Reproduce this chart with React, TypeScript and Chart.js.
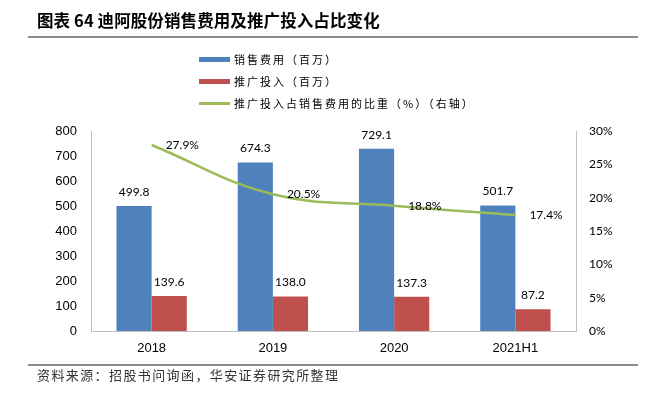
import React, { useEffect, useRef } from "react";
import { Chart, registerables } from "chart.js";

Chart.register(...registerables);

const categories = ["2018", "2019", "2020", "2021H1"];
const salesExpense = [499.8, 674.3, 729.1, 501.7];
const promotion = [139.6, 138.0, 137.3, 87.2];
const promoShare = [27.9, 20.5, 18.8, 17.4];
const leftTicks = [0, 100, 200, 300, 400, 500, 600, 700, 800];
const rightTicks = [0, 5, 10, 15, 20, 25, 30];

const BLUE = "#4F81BD";
const RED = "#C0504D";
const GREEN = "#9BBB59";

const labelPlugin = {
  id: "valueLabels",
  afterDatasetsDraw(chart: any) {
    const ctx = chart.ctx;
    ctx.save();
    ctx.fillStyle = "#000";
    ctx.font = "12px Lato";
    chart.data.datasets.forEach((ds: any, i: number) => {
      const meta = chart.getDatasetMeta(i);
      meta.data.forEach((el: any, j: number) => {
        const v = ds.data[j];
        if (ds.type === "line") {
          ctx.textAlign = "left";
          ctx.textBaseline = "middle";
          ctx.fillText(v.toFixed(1) + "%", el.x + 14, el.y);
        } else {
          ctx.textAlign = "center";
          ctx.textBaseline = "middle";
          ctx.fillText(v.toFixed(1), el.x, el.y - 14);
        }
      });
    });
    ctx.restore();
  },
};

export default function App() {
  const ref = useRef<HTMLCanvasElement>(null);
  useEffect(() => {
    if (!ref.current) return;
    const chart = new Chart(ref.current, {
      type: "bar",
      data: {
        labels: categories,
        datasets: [
          {
            type: "line",
            label: "推广投入占销售费用的比重（%）（右轴）",
            data: promoShare,
            yAxisID: "y1",
            borderColor: GREEN,
            backgroundColor: GREEN,
            borderWidth: 2.5,
            pointRadius: 0,
            tension: 0.4,
            order: 0,
          } as any,
          {
            type: "bar",
            label: "销售费用（百万）",
            data: salesExpense,
            yAxisID: "y",
            backgroundColor: BLUE,
            categoryPercentage: 0.58,
            barPercentage: 1.0,
            order: 1,
          },
          {
            type: "bar",
            label: "推广投入（百万）",
            data: promotion,
            yAxisID: "y",
            backgroundColor: RED,
            categoryPercentage: 0.58,
            barPercentage: 1.0,
            order: 1,
          },
        ],
      },
      options: {
        animation: false,
        responsive: false,
        maintainAspectRatio: false,
        layout: { padding: { top: 131, left: 0, right: 0, bottom: 0 } },
        plugins: { legend: { display: false }, tooltip: { enabled: false } },
        scales: {
          x: {
            grid: { display: false, drawTicks: false },
            border: { color: "#BFBFBF" },
            ticks: { color: "#000", font: { family: "Liberation Sans", size: 13 }, padding: 10 },
            afterFit: (s: any) => {
              s.height = 66;
            },
          },
          y: {
            position: "left",
            min: 0,
            max: 800,
            grid: { display: false, drawTicks: false },
            border: { color: "#BFBFBF" },
            afterBuildTicks: (s: any) => {
              s.ticks = leftTicks.map((v) => ({ value: v }));
            },
            ticks: { color: "#000", font: { family: "Liberation Sans", size: 13 }, padding: 14 },
            afterFit: (s: any) => {
              s.width = 91;
            },
          },
          y1: {
            position: "right",
            min: 0,
            max: 30,
            grid: { display: false, drawTicks: false },
            border: { color: "#BFBFBF" },
            afterBuildTicks: (s: any) => {
              s.ticks = rightTicks.map((v) => ({ value: v }));
            },
            ticks: {
              color: "#000",
              font: { family: "Lato", size: 12 },
              padding: 13,
              callback: (v: any) => v + "%",
            },
            afterFit: (s: any) => {
              s.width = 71;
            },
          },
        },
      },
      plugins: [labelPlugin],
    });
    return () => chart.destroy();
  }, []);

  const legendText: React.CSSProperties = {
    position: "absolute",
    left: 234,
    fontFamily: "'Noto Sans CJK SC'",
    fontSize: 11,
    letterSpacing: 2,
    color: "#000",
    lineHeight: "14px",
    whiteSpace: "nowrap",
  };

  return (
    <div style={{ position: "fixed", left: 0, top: 0, width: 647, height: 397, background: "#fff" }}>
      <canvas ref={ref} width={647} height={397} style={{ position: "absolute", left: 0, top: 0 }} />
      <div
        style={{
          position: "absolute",
          left: 37,
          top: 9,
          fontFamily: "'Noto Sans CJK SC'",
          fontWeight: 700,
          fontSize: 16.5,
          letterSpacing: 0.1,
          lineHeight: "22px",
          color: "#000",
          whiteSpace: "nowrap",
        }}
      >
        图表 64 迪阿股份销售费用及推广投入占比变化
      </div>
      <div style={{ position: "absolute", left: 28, top: 36, width: 610, height: 2, background: "#8C8C8C" }} />
      <div style={{ position: "absolute", left: 199, top: 57, width: 31, height: 5, background: BLUE }} />
      <div style={{ ...legendText, top: 52 }}>销售费用（百万）</div>
      <div style={{ position: "absolute", left: 199, top: 79, width: 31, height: 5, background: RED }} />
      <div style={{ ...legendText, top: 74 }}>推广投入（百万）</div>
      <div style={{ position: "absolute", left: 199, top: 102, width: 31, height: 2.5, background: GREEN }} />
      <div style={{ ...legendText, top: 96 }}>推广投入占销售费用的比重（%）（右轴）</div>
      <div style={{ position: "absolute", left: 28, top: 364, width: 610, height: 2, background: "#8C8C8C" }} />
      <div
        style={{
          position: "absolute",
          left: 37,
          top: 366,
          fontFamily: "'Noto Sans CJK SC'",
          fontSize: 13,
          letterSpacing: 1.4,
          lineHeight: "17px",
          color: "#333",
          whiteSpace: "nowrap",
        }}
      >
        资料来源：招股书问询函，华安证券研究所整理
      </div>
    </div>
  );
}
